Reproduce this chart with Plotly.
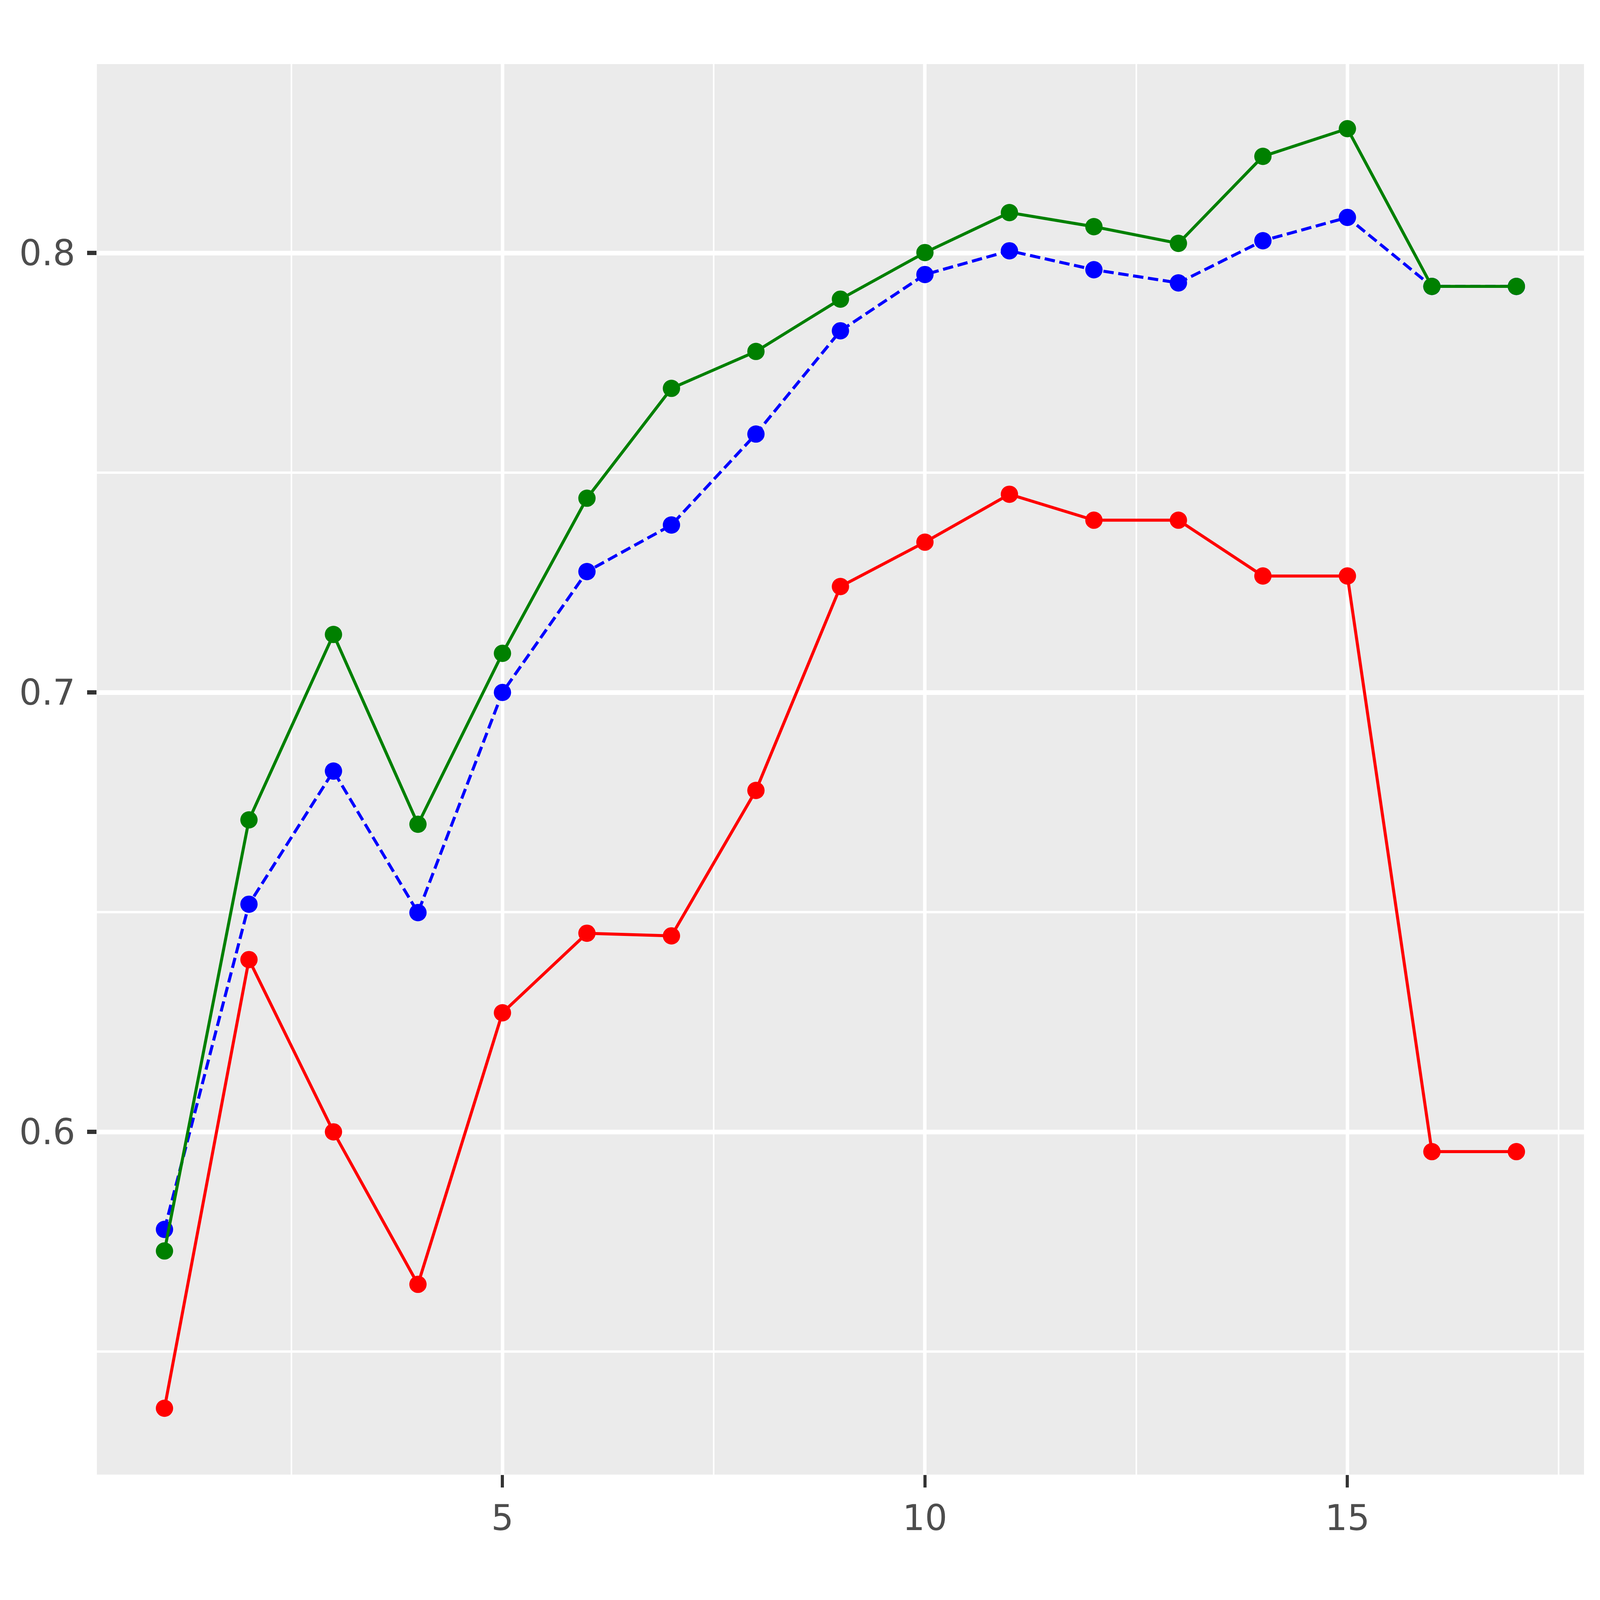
import json
import plotly.graph_objects as go

# values
steps = list(range(1, 18))

red_vals = [0.5371, 0.6392, 0.6000, 0.5653, 0.6271, 0.6452, 0.6446, 0.6777, 0.7241,
            0.7342, 0.7451, 0.7392, 0.7392, 0.7265, 0.7265, 0.5955, 0.5955]
blue_vals = [0.5778, 0.6518, 0.6821, 0.6499, 0.7000, 0.7275, 0.7381, 0.7588, 0.7823,
             0.7951, 0.8005, 0.7962, 0.7932, 0.8028, 0.8081, 0.7924, 0.7924]
green_vals = [0.5729, 0.6710, 0.7132, 0.6700, 0.7089, 0.7442, 0.7692, 0.7776, 0.7895,
              0.8001, 0.8092, 0.8060, 0.8022, 0.8220, 0.8283, 0.7924, 0.7924]

x_ticks = [5, 10, 15]
y_ticks = [0.6, 0.7, 0.8]

# sizes as measured on the 6400x4800 reference; rescaled to the real window below
W, H = 6400, 4800
M = dict(l=388, r=64, t=192, b=376)
FONT = 122
TICKLEN, TICKW = 38, 13
GRIDW, MINORW = 13.5, 6.8
LINEW, MARK = 10.5, 60
DASH = (36, 16)
YSTANDOFF = 18

fig = go.Figure()

# red first, then blue, green on top (green line covers blue points)
series = [
    (red_vals, "red", "solid"),
    (blue_vals, "blue", "%dpx,%dpx" % DASH),
    (green_vals, "green", "solid"),
]
for vals, col, dash in series:
    fig.add_trace(go.Scatter(
        x=steps, y=vals, mode="lines+markers",
        line=dict(color=col, width=LINEW, dash=dash),
        marker=dict(color=col, size=MARK, line=dict(width=0)),
        showlegend=False,
    ))

axis_font = dict(family="DejaVu Sans", size=FONT, color="#4D4D4D")

fig.update_layout(
    autosize=True,
    margin=dict(**M, autoexpand=False),
    paper_bgcolor="white",
    plot_bgcolor="#EBEBEB",
    font=axis_font,
)

fig.update_xaxes(
    range=[0.2, 17.8],
    tickmode="array", tickvals=x_ticks, ticktext=[str(v) for v in x_ticks],
    ticks="outside", ticklen=TICKLEN, tickwidth=TICKW, tickcolor="#333333",
    tickfont=axis_font,
    showgrid=True, gridcolor="white", gridwidth=GRIDW,
    minor=dict(tickmode="array", tickvals=[2.5, 7.5, 12.5, 17.5],
               showgrid=True, gridcolor="white", gridwidth=MINORW, ticks=""),
    zeroline=False, showline=False,
)
fig.update_yaxes(
    range=[0.522, 0.843],
    tickmode="array", tickvals=y_ticks, ticktext=["0.6", "0.7", "0.8"],
    ticks="outside", ticklen=TICKLEN, tickwidth=TICKW, tickcolor="#333333",
    tickfont=axis_font, ticklabelstandoff=YSTANDOFF,
    showgrid=True, gridcolor="white", gridwidth=GRIDW,
    minor=dict(tickmode="array", tickvals=[0.55, 0.65, 0.75],
               showgrid=True, gridcolor="white", gridwidth=MINORW, ticks=""),
    zeroline=False, showline=False,
)

# the browser window may not be the full 6400x4800, so scale everything to it
cfg = dict(W=W, H=H, M=M, FONT=FONT, TICKLEN=TICKLEN, TICKW=TICKW,
           GRIDW=GRIDW, MINORW=MINORW, LINEW=LINEW, MARK=MARK,
           DASH=DASH, YSTANDOFF=YSTANDOFF, dashes=[s[2] for s in series])
fit_js = """
var c = %s;
var gd = document.getElementById('{plot_id}');
document.body.style.margin = '0';
document.body.style.overflow = 'hidden';
var w = window.innerWidth, h = window.innerHeight;
var sx = w / c.W, sy = h / c.H, s = Math.sqrt(sx * sy);
var dashes = c.dashes.map(function (d) {
    return d === 'solid' ? d : (c.DASH[0] * s) + 'px,' + (c.DASH[1] * s) + 'px';
});
Plotly.relayout(gd, {
    'width': w, 'height': h,
    'margin.l': c.M.l * sx, 'margin.r': c.M.r * sx,
    'margin.t': c.M.t * sy, 'margin.b': c.M.b * sy,
    'font.size': c.FONT * s,
    'xaxis.tickfont.size': c.FONT * s, 'yaxis.tickfont.size': c.FONT * s,
    'xaxis.ticklen': c.TICKLEN * sy, 'yaxis.ticklen': c.TICKLEN * sx,
    'xaxis.tickwidth': c.TICKW * sx, 'yaxis.tickwidth': c.TICKW * sy,
    'xaxis.gridwidth': c.GRIDW * sx, 'yaxis.gridwidth': c.GRIDW * sy,
    'xaxis.minor.gridwidth': c.MINORW * sx, 'yaxis.minor.gridwidth': c.MINORW * sy,
    'yaxis.ticklabelstandoff': Math.round(c.YSTANDOFF * sx)
});
Plotly.restyle(gd, {
    'line.width': c.LINEW * s,
    'marker.size': c.MARK * s,
    'line.dash': dashes
});
""" % json.dumps(cfg)

fig.write_html("out.html", config={"responsive": True, "displayModeBar": False},
               post_script=fit_js)
